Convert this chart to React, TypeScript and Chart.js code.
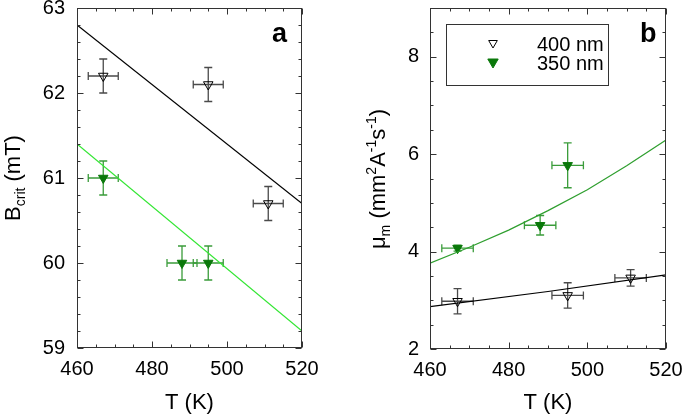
import React, { useEffect, useRef } from 'react';
import { Chart, registerables } from 'chart.js';

Chart.register(...registerables);

const FONT = '"Liberation Sans", Arial, sans-serif';

// ---------- shared ----------
const tTicks = [460, 480, 500, 520];
const tErr = 4;

// ---------- panel a : B_crit (mT) ----------
const aT400 = [467, 495, 511];
const aB400 = [62.2, 62.1, 60.7];
const aB400Err = [0.2, 0.2, 0.2];
const aT350 = [467, 488, 495];
const aB350 = [61.0, 60.0, 60.0];
const aB350Err = [0.2, 0.2, 0.2];
const aFitT = [460, 520];
const aFit400 = [62.8, 60.7];
const aFit350 = [61.4, 59.2];
const aYTicks = [59, 60, 61, 62, 63];

// ---------- panel b : mu_m (mm^2 A^-1 s^-1) ----------
const bT400 = [467, 495, 511];
const bMu400 = [2.98, 3.1, 3.46];
const bMu400Err = [0.26, 0.26, 0.17];
const bT350 = [467, 488, 495];
const bMu350 = [4.07, 4.54, 5.77];
const bMu350Err = [0.06, 0.2, 0.46];
const bFitT400 = [460, 490, 520];
const bFit400 = [2.87, 3.18, 3.52];
const bFitT350 = [460, 470, 480, 490, 500, 510, 520];
const bFit350 = [3.76, 4.09, 4.44, 4.84, 5.27, 5.76, 6.29];
const bYTicks = [2, 4, 6, 8];

const legendLabels = ['400 nm', '350 nm'];

const BLACK = '#000000';
const GREY_ERR = '#4a4a4a';
const GREEN_MARK = '#0a780a';
const GREEN_ERR = '#3a9c3a';
const LIME_FIT = '#33e633';
const GREEN_FIT = '#2f9f2f';

type Seg = { t: string; size: number; dy: number };

function pts(xs: number[], ys: number[]) {
  return xs.map((x, i) => ({ x, y: ys[i] }));
}

function drawRotated(ctx: CanvasRenderingContext2D, segs: Seg[], baseX: number, cy: number) {
  ctx.save();
  ctx.translate(baseX, cy);
  ctx.rotate(-Math.PI / 2);
  ctx.fillStyle = '#000';
  ctx.textBaseline = 'alphabetic';
  ctx.textAlign = 'left';
  let total = 0;
  const ws: number[] = [];
  segs.forEach((s) => {
    ctx.font = `${s.size}px ${FONT}`;
    const w = ctx.measureText(s.t).width;
    ws.push(w);
    total += w;
  });
  let x = -total / 2;
  segs.forEach((s, i) => {
    ctx.font = `${s.size}px ${FONT}`;
    ctx.fillText(s.t, x, s.dy);
    x += ws[i];
  });
  ctx.restore();
}

function triangle(ctx: CanvasRenderingContext2D, x: number, y: number, r: number, fill: string | null, stroke: string) {
  ctx.beginPath();
  ctx.moveTo(x, y + r);
  ctx.lineTo(x - r * 0.866, y - r / 2);
  ctx.lineTo(x + r * 0.866, y - r / 2);
  ctx.closePath();
  if (fill) {
    ctx.fillStyle = fill;
    ctx.fill();
  }
  ctx.strokeStyle = stroke;
  ctx.lineWidth = 1;
  ctx.stroke();
}

type ErrSet = { xs: number[]; ys: number[]; yerr: number[]; color: string };

type PanelCfg = {
  errs: ErrSet[];
  yMinorStep: number;
  yMajorStep: number;
  yMin: number;
  yMax: number;
  title: Seg[];
  titleX: number;
  titleY: number;
  letter: string;
  letterX: number;
  legend: boolean;
};

function makeDecor(cfg: PanelCfg) {
  return {
    id: 'decor' + cfg.letter,
    beforeDatasetsDraw(chart: any) {
      const ctx: CanvasRenderingContext2D = chart.ctx;
      const xs = chart.scales.x;
      const ys = chart.scales.y;
      const cap = 4;
      ctx.save();
      ctx.lineWidth = 1.3;
      cfg.errs.forEach((e) => {
        ctx.strokeStyle = e.color;
        e.xs.forEach((t, i) => {
          const px = xs.getPixelForValue(t);
          const py = ys.getPixelForValue(e.ys[i]);
          const x0 = xs.getPixelForValue(t - tErr);
          const x1 = xs.getPixelForValue(t + tErr);
          const y0 = ys.getPixelForValue(e.ys[i] - e.yerr[i]);
          const y1 = ys.getPixelForValue(e.ys[i] + e.yerr[i]);
          ctx.beginPath();
          ctx.moveTo(x0, py);
          ctx.lineTo(x1, py);
          ctx.moveTo(x0, py - cap);
          ctx.lineTo(x0, py + cap);
          ctx.moveTo(x1, py - cap);
          ctx.lineTo(x1, py + cap);
          ctx.moveTo(px, y0);
          ctx.lineTo(px, y1);
          ctx.moveTo(px - cap, y0);
          ctx.lineTo(px + cap, y0);
          ctx.moveTo(px - cap, y1);
          ctx.lineTo(px + cap, y1);
          ctx.stroke();
        });
      });
      ctx.restore();
    },
    afterDraw(chart: any) {
      const ctx: CanvasRenderingContext2D = chart.ctx;
      const a = chart.chartArea;
      const xs = chart.scales.x;
      const ys = chart.scales.y;
      const L = Math.round(a.left) + 0.5;
      const R = Math.round(a.right) - 0.5;
      const T = Math.round(a.top) + 0.5;
      const B = Math.round(a.bottom) - 0.5;
      ctx.save();
      ctx.strokeStyle = '#333';
      ctx.lineWidth = 1;
      ctx.strokeRect(L, T, R - L, B - T);
      // x ticks (inward, bottom and top)
      ctx.beginPath();
      for (let k = 0; k <= 12; k++) {
        const v = 460 + k * 5;
        const px = Math.round(xs.getPixelForValue(v)) + 0.5;
        const len = v % 20 === 0 ? 6 : 3;
        ctx.moveTo(px, B);
        ctx.lineTo(px, B - len);
        ctx.moveTo(px, T);
        ctx.lineTo(px, T + len);
      }
      const nY = Math.round((cfg.yMax - cfg.yMin) / cfg.yMinorStep);
      const per = Math.round(cfg.yMajorStep / cfg.yMinorStep);
      for (let k = 0; k <= nY; k++) {
        const v = cfg.yMin + k * cfg.yMinorStep;
        const py = Math.round(ys.getPixelForValue(v)) + 0.5;
        const len = k % per === 0 ? 6 : 3;
        ctx.moveTo(L, py);
        ctx.lineTo(L + len, py);
        ctx.moveTo(R, py);
        ctx.lineTo(R - len, py);
      }
      ctx.stroke();

      // x title
      ctx.fillStyle = '#000';
      ctx.font = `22px ${FONT}`;
      ctx.textAlign = 'center';
      ctx.textBaseline = 'alphabetic';
      ctx.fillText('T (K)', (a.left + a.right) / 2, 409);

      // y title
      drawRotated(ctx, cfg.title, cfg.titleX, cfg.titleY);

      // panel letter
      ctx.font = `bold 27px ${FONT}`;
      ctx.textAlign = 'left';
      ctx.fillStyle = '#000';
      ctx.fillText(cfg.letter, cfg.letterX, 42);

      // legend
      if (cfg.legend) {
        ctx.strokeStyle = '#333';
        ctx.lineWidth = 1;
        ctx.strokeRect(106.5, 24.5, 162, 61);
        triangle(ctx, 153, 43, 5, null, BLACK);
        triangle(ctx, 153, 62, 6, GREEN_MARK, GREEN_MARK);
        ctx.font = `20px ${FONT}`;
        ctx.fillStyle = '#000';
        ctx.textBaseline = 'middle';
        ctx.fillText(legendLabels[0], 197, 45);
        ctx.fillText(legendLabels[1], 197, 64);
      }
      ctx.restore();
    },
  };
}

function baseScales(yMin: number, yMax: number, yStep: number, yTicks: number[], yWidth: number, yPad: number, xHeight: number) {
  return {
    x: {
      type: 'linear',
      min: 460,
      max: 520,
      afterBuildTicks: (s: any) => {
        s.ticks = tTicks.map((v) => ({ value: v }));
      },
      ticks: { stepSize: 20, color: '#000', font: { size: 20, family: FONT }, padding: 9, maxRotation: 0 },
      grid: { display: false, drawTicks: false },
      border: { display: false },
      afterFit: (s: any) => {
        s.height = xHeight;
        s.paddingLeft = 0;
        s.paddingRight = 0;
      },
    },
    y: {
      type: 'linear',
      min: yMin,
      max: yMax,
      afterBuildTicks: (s: any) => {
        s.ticks = yTicks.map((v) => ({ value: v }));
      },
      ticks: { stepSize: yStep, color: '#000', font: { size: 20, family: FONT }, padding: yPad },
      grid: { display: false, drawTicks: false },
      border: { display: false },
      afterFit: (s: any) => {
        s.width = yWidth;
        s.paddingTop = 0;
        s.paddingBottom = 0;
      },
    },
  };
}

function commonOpts(padRight: number, scales: any) {
  return {
    responsive: false,
    maintainAspectRatio: false,
    animation: false,
    devicePixelRatio: 1,
    layout: { padding: { left: 0, right: padRight, top: 8, bottom: 0 } },
    plugins: { legend: { display: false }, tooltip: { enabled: false } },
    scales,
  };
}

function configA(): any {
  return {
    type: 'scatter',
    data: {
      datasets: [
        { data: pts(aFitT, aFit400), showLine: true, borderColor: BLACK, borderWidth: 1.2, pointRadius: 0 },
        { data: pts(aFitT, aFit350), showLine: true, borderColor: LIME_FIT, borderWidth: 1.2, pointRadius: 0 },
        {
          data: pts(aT400, aB400), pointStyle: 'triangle', rotation: 180, pointRadius: 5.5,
          pointBackgroundColor: 'rgba(0,0,0,0)', pointBorderColor: BLACK, pointBorderWidth: 1,
        },
        {
          data: pts(aT350, aB350), pointStyle: 'triangle', rotation: 180, pointRadius: 5.5,
          pointBackgroundColor: GREEN_MARK, pointBorderColor: GREEN_MARK, pointBorderWidth: 1,
        },
      ],
    },
    options: commonOpts(38, baseScales(59, 63, 1, aYTicks, 77, 12, 69)),
    plugins: [
      makeDecor({
        errs: [
          { xs: aT400, ys: aB400, yerr: aB400Err, color: GREY_ERR },
          { xs: aT350, ys: aB350, yerr: aB350Err, color: GREEN_ERR },
        ],
        yMinorStep: 0.2,
        yMajorStep: 1,
        yMin: 59,
        yMax: 63,
        title: [
          { t: 'B', size: 22, dy: 0 },
          { t: 'crit', size: 14, dy: 5 },
          { t: ' (mT)', size: 22, dy: 0 },
        ],
        titleX: 20,
        titleY: 178,
        letter: 'a',
        letterX: 272,
        legend: false,
      }),
    ],
  };
}

function configB(): any {
  return {
    type: 'scatter',
    data: {
      datasets: [
        { data: pts(bFitT400, bFit400), showLine: true, borderColor: BLACK, borderWidth: 1.2, pointRadius: 0 },
        { data: pts(bFitT350, bFit350), showLine: true, borderColor: GREEN_FIT, borderWidth: 1.2, pointRadius: 0 },
        {
          data: pts(bT400, bMu400), pointStyle: 'triangle', rotation: 180, pointRadius: 5.5,
          pointBackgroundColor: 'rgba(0,0,0,0)', pointBorderColor: BLACK, pointBorderWidth: 1,
        },
        {
          data: pts(bT350, bMu350), pointStyle: 'triangle', rotation: 180, pointRadius: 5.5,
          pointBackgroundColor: GREEN_MARK, pointBorderColor: GREEN_MARK, pointBorderWidth: 1,
        },
      ],
    },
    options: commonOpts(19, baseScales(2, 9, 2, bYTicks, 90, 11, 68)),
    plugins: [
      makeDecor({
        errs: [
          { xs: bT400, ys: bMu400, yerr: bMu400Err, color: GREY_ERR },
          { xs: bT350, ys: bMu350, yerr: bMu350Err, color: GREEN_ERR },
        ],
        yMinorStep: 0.5,
        yMajorStep: 2,
        yMin: 2,
        yMax: 9,
        title: [
          { t: '\u03bc', size: 22, dy: 0 },
          { t: 'm', size: 14, dy: 5 },
          { t: ' (mm', size: 22, dy: 0 },
          { t: '2', size: 14, dy: -9 },
          { t: 'A', size: 22, dy: 0 },
          { t: '-1', size: 14, dy: -9 },
          { t: 's', size: 22, dy: 0 },
          { t: '-1', size: 14, dy: -9 },
          { t: ')', size: 22, dy: 0 },
        ],
        titleX: 45,
        titleY: 179,
        letter: 'b',
        letterX: 300,
        legend: true,
      }),
    ],
  };
}

export default function App() {
  const refA = useRef<HTMLCanvasElement>(null);
  const refB = useRef<HTMLCanvasElement>(null);
  useEffect(() => {
    const ca = new Chart(refA.current as HTMLCanvasElement, configA());
    const cb = new Chart(refB.current as HTMLCanvasElement, configB());
    return () => {
      ca.destroy();
      cb.destroy();
    };
  }, []);
  return (
    <div style={{ position: 'fixed', left: 0, top: 0, width: 685, height: 417, background: '#fff', overflow: 'hidden' }}>
      <canvas ref={refA} width={340} height={417} style={{ position: 'absolute', left: 0, top: 0, width: 340, height: 417 }} />
      <canvas ref={refB} width={345} height={417} style={{ position: 'absolute', left: 340, top: 0, width: 345, height: 417 }} />
    </div>
  );
}
